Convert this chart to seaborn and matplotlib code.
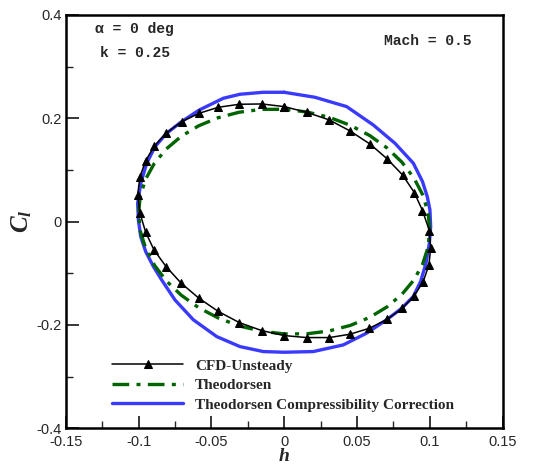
import matplotlib
matplotlib.use("Agg")
import matplotlib.pyplot as plt
import seaborn as sns
import pandas as pd
from matplotlib.ticker import MultipleLocator, FixedLocator

# CFD-Unsteady (closed loop)
cfd_h = [0.0, -0.0154, -0.0308, -0.0452, -0.0583, -0.0704, -0.0811, -0.0891, -0.0951, -0.099,
         -0.1006, -0.099, -0.0951, -0.0894, -0.0811, -0.0708, -0.0587, -0.0452, -0.0308, -0.0154,
         0.0, 0.0154, 0.031, 0.0452, 0.0585, 0.0708, 0.081, 0.0893, 0.0955, 0.0994,
         0.1006, 0.0997, 0.095, 0.0894, 0.0813, 0.0708, 0.059, 0.0452, 0.031, 0.0154, 0.0]
cfd_cl = [0.2226, 0.2277, 0.2271, 0.2213, 0.2097, 0.1935, 0.171, 0.1465, 0.118, 0.087,
          0.0516, 0.016, -0.0206, -0.0548, -0.0871, -0.119, -0.148, -0.174, -0.1955, -0.211,
          -0.2206, -0.2245, -0.2245, -0.218, -0.2065, -0.189, -0.168, -0.1439, -0.116, -0.0839,
          -0.0516, -0.0174, 0.0213, 0.0561, 0.0903, 0.1213, 0.150, 0.1755, 0.1968, 0.2116, 0.2226]

# Theodorsen (closed loop)
th_h = [0.1, 0.0988, 0.0951, 0.0891, 0.0809, 0.0707, 0.0588, 0.0454, 0.0309, 0.0156,
        0.0, -0.0156, -0.0309, -0.0454, -0.0588, -0.0707, -0.0809, -0.0891, -0.0951, -0.0988,
        -0.1, -0.0988, -0.0951, -0.0891, -0.0809, -0.0707, -0.0588, -0.0454, -0.0309, -0.0156,
        0.0, 0.0156, 0.0309, 0.0454, 0.0588, 0.0707, 0.0809, 0.0891, 0.0951, 0.0988, 0.1]
th_cl = [-0.016, 0.0182, 0.052, 0.0844, 0.1149, 0.1424, 0.1665, 0.1864, 0.2019, 0.2122,
         0.2174, 0.2172, 0.2117, 0.201, 0.1853, 0.165, 0.1407, 0.113, 0.0824, 0.0498,
         0.016, -0.0182, -0.052, -0.0844, -0.1149, -0.1424, -0.1665, -0.1864, -0.2019, -0.2122,
         -0.2174, -0.2172, -0.2117, -0.201, -0.1853, -0.165, -0.1407, -0.113, -0.0824, -0.0498, -0.016]

# Theodorsen Compressibility Correction (closed loop)
tc_h = [0.0, -0.0143, -0.0303, -0.0418, -0.0583, -0.0704, -0.0807, -0.0887, -0.0944, -0.0985,
        -0.1006, -0.1001, -0.0985, -0.0951, -0.0898, -0.0841, -0.075, -0.0624, -0.0463, -0.0303,
        -0.0143, 0.0, 0.02, 0.0406, 0.0566, 0.0704, 0.0806, 0.0887, 0.0937, 0.0974,
        0.0997, 0.1006, 0.1001, 0.0983, 0.095, 0.0887, 0.0761, 0.0612, 0.0429, 0.0212, 0.0]
tc_cl = [0.2503, 0.2503, 0.2465, 0.2387, 0.216, 0.1935, 0.171, 0.145, 0.113, 0.074,
         0.0355, 0.003, -0.029, -0.058, -0.087, -0.113, -0.1516, -0.19, -0.2226, -0.242,
         -0.2516, -0.2529, -0.2516, -0.2387, -0.216, -0.19, -0.168, -0.145, -0.116, -0.0806,
         -0.042, -0.0097, 0.0226, 0.048, 0.0774, 0.113, 0.1516, 0.187, 0.2226, 0.2406, 0.2503]

labels = ["CFD-Unsteady", "Theodorsen", "Theodorsen Compressibility Correction"]
xtick_vals = [-0.15, -0.1, -0.05, 0, 0.05, 0.1, 0.15]
xtick_text = ["-0.15", "-0.1", "-0.05", "0", "0.05", "0.1", "0.15"]
ytick_vals = [-0.4, -0.2, 0, 0.2, 0.4]
ytick_text = ["-0.4", "-0.2", "0", "0.2", "0.4"]

sns.set_style("white")
plt.rcParams["axes.unicode_minus"] = False
plt.rcParams["font.family"] = ["Liberation Sans", "DejaVu Sans"]
plt.rcParams["mathtext.fontset"] = "custom"
plt.rcParams["mathtext.it"] = "Liberation Serif:italic:bold"
plt.rcParams["mathtext.rm"] = "Liberation Serif:italic:bold"
plt.rcParams["mathtext.bf"] = "Liberation Serif:italic:bold"

fig = plt.figure(figsize=(5.41, 4.67), dpi=100)
ax = fig.add_axes([0.1215, 0.083, 0.8075, 0.885])

df_cfd = pd.DataFrame({"h": cfd_h, "cl": cfd_cl})
df_th = pd.DataFrame({"h": th_h, "cl": th_cl})
df_tc = pd.DataFrame({"h": tc_h, "cl": tc_cl})

sns.lineplot(data=df_cfd, x="h", y="cl", sort=False, estimator=None, ax=ax,
             color="black", lw=1.1, marker="^", markersize=5.5, markeredgecolor="black",
             label=labels[0], zorder=3)
sns.lineplot(data=df_th, x="h", y="cl", sort=False, estimator=None, ax=ax,
             color="#006400", lw=2.4, linestyle=(0, (5, 2.2, 1.2, 2.2)),
             label=labels[1], zorder=2)
sns.lineplot(data=df_tc, x="h", y="cl", sort=False, estimator=None, ax=ax,
             color="#3a3aff", lw=2.4, label=labels[2], zorder=1)

ax.set_xlim(-0.15, 0.15)
ax.set_ylim(-0.4, 0.4)
ax.xaxis.set_major_locator(FixedLocator(xtick_vals))
ax.xaxis.set_minor_locator(MultipleLocator(0.025))
ax.yaxis.set_major_locator(FixedLocator(ytick_vals))
ax.yaxis.set_minor_locator(MultipleLocator(0.1))
ax.set_xticklabels(xtick_text)
ax.set_yticklabels(ytick_text)
ax.tick_params(which="major", direction="in", length=9, width=1.3, labelsize=10.5,
               top=False, right=False, left=True, bottom=True, pad=3)
ax.tick_params(axis="x", which="major", pad=5)
ax.tick_params(which="minor", direction="in", length=5, width=1.0,
               top=False, right=False, left=True, bottom=True)
for s in ax.spines.values():
    s.set_linewidth(1.8)
    s.set_color("black")

ax.set_xlabel("h", fontfamily="Liberation Serif", fontweight="bold", fontstyle="italic",
              fontsize=14)
ax.xaxis.set_label_coords(0.5, -0.047)
ax.set_ylabel("$C_l$", fontsize=18)
ax.yaxis.set_label_coords(-0.072, 0.5)

mono = dict(fontfamily="Liberation Mono", fontweight="bold", fontsize=10.5)
ax.text(0.0665, 0.965, "α = 0 deg", transform=ax.transAxes, ha="left", va="center", **mono)
ax.text(0.078, 0.908, "k = 0.25", transform=ax.transAxes, ha="left", va="center", **mono)
ax.text(0.728, 0.937, "Mach = 0.5", transform=ax.transAxes, ha="left", va="center", **mono)

leg = ax.legend(loc="lower left", bbox_to_anchor=(0.093, 0.025), frameon=False,
                prop=dict(family="Liberation Serif", weight="bold", size=11),
                handlelength=4.6, handletextpad=0.8, labelspacing=0.38, borderaxespad=0)

fig.savefig("out.png", dpi=100)
